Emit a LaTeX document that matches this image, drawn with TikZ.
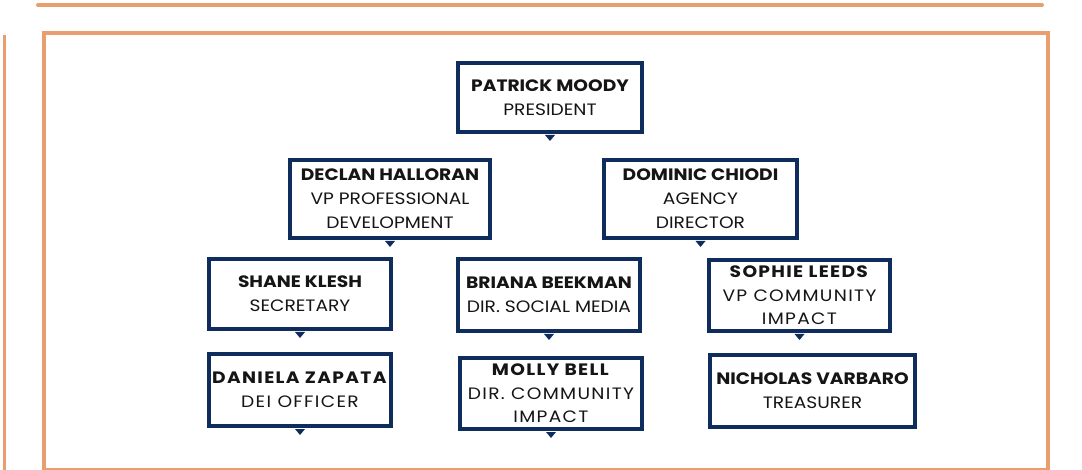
\documentclass[tikz,border=0pt]{standalone}
\usepackage{fontspec}
\setmainfont{Poppins}[FakeStretch=1.13]
\newfontfamily\spaced{Poppins}[FakeStretch=1.13, LetterSpace=8]
\definecolor{navy}{HTML}{0F2D5C}
\definecolor{peach}{HTML}{EA9E6E}
\definecolor{ink}{HTML}{151515}
\begin{document}
\begin{tikzpicture}[x=1pt,y=-1pt,
  box/.style={draw=navy, line width=4pt, fill=white, inner sep=0pt, align=center,
    text=ink, font=\fontsize{16.5}{24}\selectfont},
  spacedbox/.style={box, font=\fontsize{16.5}{23.5}\selectfont\spaced},
  frameline/.style={draw=peach, line width=4pt},
  notch/.style={fill=navy}]
\useasboundingbox (0,0) rectangle (1082,470);
% decorative lines
\draw[frameline, line cap=round] (38,5) -- (1042,5);
\draw[draw=peach, line width=3pt] (4,35) -- (4,472);
\draw[frameline] (44,475) -- (44,33) -- (1048,33) -- (1048,470) -- (44,470);
% boxes
\newcommand{\orgbox}[7][box]{%
  \node[#1, minimum width=#5, minimum height=#6] (#2) at (#3,#4) {#7};
}
\newcommand{\notchat}[1]{%
  \fill[notch] ([xshift=-5pt,yshift=-1pt]#1.south) -- ([xshift=5pt,yshift=-1pt]#1.south) -- ([yshift=-7pt]#1.south) -- cycle;
}
\orgbox{pm}{550}{97.5}{184}{69}{\textbf{PATRICK MOODY}\\PRESIDENT}
\orgbox{dh}{390}{199}{200}{78}{\textbf{DECLAN HALLORAN}\\VP PROFESSIONAL\\DEVELOPMENT}
\orgbox{dc}{700.5}{199}{193}{78}{\textbf{DOMINIC CHIODI}\\AGENCY\\DIRECTOR}
\orgbox{sk}{300}{294}{182}{70}{\textbf{SHANE KLESH}\\SECRETARY}
\orgbox{bb}{549}{295}{182}{72}{\textbf{BRIANA BEEKMAN}\\DIR. SOCIAL MEDIA}
\orgbox[spacedbox]{sl}{799.5}{295.5}{181}{71}{\textbf{SOPHIE LEEDS}\\VP COMMUNITY\\IMPACT}
\orgbox[spacedbox]{dz}{300}{390}{182}{72}{\textbf{DANIELA ZAPATA}\\DEI OFFICER}
\orgbox[spacedbox]{mb}{551}{393.5}{182}{71}{\textbf{MOLLY BELL}\\DIR. COMMUNITY\\IMPACT}
\orgbox{nv}{812.5}{391}{205}{72}{\textbf{NICHOLAS VARBARO}\\TREASURER}
\notchat{pm}
\notchat{dh}
\notchat{dc}
\notchat{sk}
\notchat{bb}
\notchat{sl}
\notchat{dz}
\notchat{mb}
\end{tikzpicture}
\end{document}
